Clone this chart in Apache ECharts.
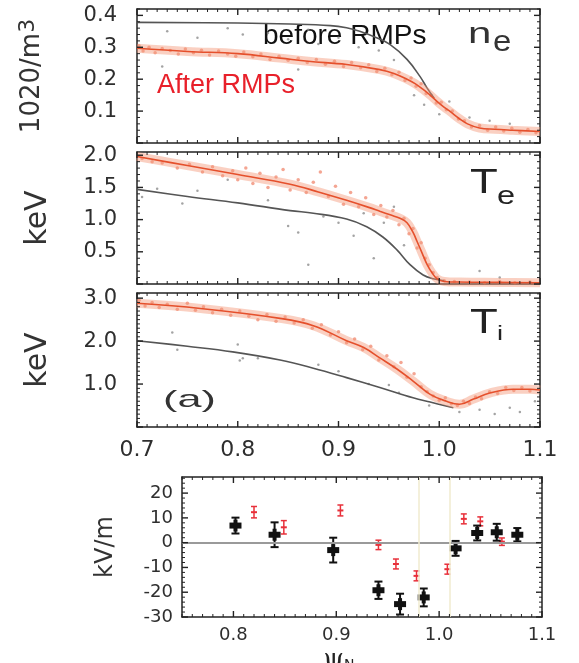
<!DOCTYPE html>
<html><head><meta charset="utf-8">
<script src="https://cdn.jsdelivr.net/npm/echarts/dist/echarts.min.js"></script>
<style>html,body{margin:0;padding:0;background:#fff}#c{width:579px;height:663px}</style>
</head><body><div id="c"></div>
<script>
// ---------------- DATA ----------------
const xTickLabels = ['0.7','0.8','0.9','1.0','1.1'];
const neTickLabels = ['0.1','0.2','0.3','0.4'];
const teTickLabels = ['0.5','1.0','1.5','2.0'];
const tiTickLabels = ['1.0','2.0','3.0'];
const erXTickLabels = ['0.8','0.9','1.0','1.1'];
const erYTickLabels = ['-30','-20','-10','0','10','20'];

// n_e (10^20 m^-3)
const neBefore = [[0.700,0.378],[0.800,0.376],[0.852,0.373],[0.892,0.368],[0.908,0.361],[0.921,0.350],[0.936,0.332],[0.951,0.309],[0.968,0.262],[0.981,0.208],[0.988,0.172],[0.995,0.140]];
const neAfter = [[0.700,0.297],[0.750,0.287],[0.800,0.280],[0.842,0.266],[0.870,0.256],[0.908,0.246],[0.941,0.230],[0.955,0.218],[0.968,0.200],[0.976,0.186],[0.984,0.168],[0.991,0.150],[0.998,0.130],[1.005,0.112],[1.011,0.098],[1.020,0.076],[1.028,0.060],[1.040,0.047],[1.055,0.043],[1.073,0.040],[1.100,0.036]];
const neAfterPts = [[0.702,0.305],[0.706,0.288],[0.712,0.300],[0.718,0.283],[0.725,0.296],[0.733,0.290],[0.741,0.279],[0.748,0.295],[0.756,0.283],[0.764,0.291],[0.772,0.276],[0.781,0.288],[0.790,0.279],[0.798,0.272],[0.806,0.285],[0.815,0.270],[0.823,0.279],[0.832,0.262],[0.841,0.272],[0.850,0.259],[0.860,0.266],[0.869,0.252],[0.878,0.262],[0.887,0.247],[0.896,0.256],[0.905,0.240],[0.913,0.252],[0.922,0.236],[0.930,0.245],[0.938,0.224],[0.946,0.234],[0.953,0.214],[0.960,0.222],[0.966,0.196],[0.972,0.204],[0.977,0.178],[0.982,0.186],[0.987,0.155],[0.992,0.150],[0.997,0.125],[1.002,0.128],[1.007,0.104],[1.013,0.100],[1.019,0.075],[1.025,0.070],[1.032,0.050],[1.040,0.055],[1.048,0.040],[1.056,0.050],[1.064,0.038],[1.072,0.046],[1.080,0.034],[1.088,0.042],[1.096,0.032]];
const neGrayPts = [[0.730,0.350],[0.760,0.330],[0.790,0.360],[0.805,0.340],[0.830,0.345],[0.850,0.325],[0.870,0.355],[0.880,0.310],[0.900,0.330],[0.920,0.300],[0.940,0.290],[0.955,0.260],[0.975,0.150],[0.985,0.120],[1.000,0.090],[1.010,0.130],[1.030,0.080],[1.050,0.070],[1.070,0.060],[0.725,0.240],[0.860,0.230]];

// T_e (keV)
const teBefore = [[0.700,1.47],[0.750,1.36],[0.800,1.26],[0.852,1.14],[0.875,1.10],[0.908,1.01],[0.928,0.89],[0.944,0.73],[0.958,0.53],[0.971,0.30],[0.984,0.14],[0.994,0.08],[1.005,0.05]];
const teAfter = [[0.700,1.98],[0.750,1.84],[0.800,1.70],[0.852,1.55],[0.880,1.43],[0.908,1.30],[0.930,1.19],[0.941,1.13],[0.952,1.07],[0.961,1.02],[0.968,0.95],[0.974,0.80],[0.978,0.66],[0.983,0.48],[0.988,0.30],[0.993,0.17],[0.998,0.08],[1.005,0.04],[1.020,0.03],[1.060,0.025],[1.100,0.02]];
const teAfterPts = [[0.705,1.95],[0.715,1.90],[0.725,1.88],[0.740,1.80],[0.752,1.86],[0.765,1.74],[0.775,1.82],[0.785,1.68],[0.795,1.76],[0.800,1.62],[0.808,1.80],[0.815,1.56],[0.822,1.72],[0.830,1.50],[0.838,1.66],[0.845,1.78],[0.852,1.46],[0.860,1.62],[0.868,1.42],[0.875,1.58],[0.882,1.74],[0.890,1.36],[0.897,1.52],[0.905,1.24],[0.912,1.42],[0.920,1.20],[0.927,1.34],[0.935,1.08],[0.942,1.22],[0.948,1.04],[0.954,1.14],[0.960,0.92],[0.965,1.02],[0.970,0.78],[0.974,0.86],[0.978,0.56],[0.982,0.64],[0.986,0.40],[0.990,0.30],[0.994,0.18],[0.998,0.10],[1.005,0.05],[1.015,0.04],[1.030,0.03],[1.045,0.02],[1.060,0.04],[1.075,0.02],[1.090,0.03]];
const teGrayPts = [[0.705,1.35],[0.720,1.48],[0.745,1.25],[0.760,1.45],[0.790,1.62],[0.830,1.30],[0.850,0.90],[0.860,0.80],[0.870,0.30],[0.885,1.05],[0.900,0.95],[0.915,0.75],[0.925,1.10],[0.935,0.40],[0.945,0.95],[0.955,1.20],[0.965,0.60],[1.040,0.20],[1.060,0.10]];

// T_i (keV)
const tiBefore = [[0.700,2.01],[0.750,1.88],[0.795,1.75],[0.842,1.56],[0.875,1.37],[0.908,1.15],[0.941,0.92],[0.974,0.68],[0.991,0.58],[1.014,0.45]];
const tiAfter = [[0.700,2.88],[0.763,2.76],[0.842,2.53],[0.875,2.36],[0.908,2.01],[0.925,1.85],[0.941,1.61],[0.958,1.35],[0.974,1.07],[0.991,0.76],[1.007,0.60],[1.020,0.53],[1.034,0.65],[1.050,0.79],[1.073,0.88],[1.090,0.88],[1.100,0.86]];
const tiAfterPts = [[0.702,2.95],[0.708,2.82],[0.715,2.90],[0.722,2.78],[0.730,2.86],[0.740,2.74],[0.750,2.88],[0.758,2.72],[0.766,2.80],[0.775,2.66],[0.784,2.74],[0.793,2.60],[0.802,2.70],[0.811,2.58],[0.820,2.50],[0.829,2.62],[0.838,2.46],[0.847,2.56],[0.856,2.42],[0.865,2.50],[0.874,2.30],[0.883,2.38],[0.892,2.14],[0.900,2.22],[0.908,1.96],[0.916,2.05],[0.924,1.80],[0.932,1.88],[0.940,1.56],[0.948,1.66],[0.955,1.40],[0.962,1.50],[0.968,1.16],[0.975,1.24],[0.982,0.94],[0.988,0.82],[0.994,0.72],[1.000,0.62],[1.006,0.68],[1.012,0.54],[1.018,0.50],[1.024,0.60],[1.030,0.55],[1.036,0.70],[1.042,0.66],[1.050,0.82],[1.058,0.78],[1.066,0.92],[1.074,0.85],[1.082,0.92],[1.090,0.84]];
const tiGrayPts = [[0.735,2.20],[0.740,1.80],[0.800,1.92],[0.802,1.55],[0.805,1.60],[0.820,1.60],[0.880,1.45],[0.900,1.30],[0.930,1.00],[0.950,0.98],[0.960,0.80],[0.990,0.50],[1.020,0.35],[1.040,0.40],[1.055,0.30],[1.070,0.45],[1.080,0.35],[1.095,0.60]];

// E_r (kV/m): [psi, value, error]
const erBefore = [[0.802,6.9,3.2],[0.840,3.2,5.0],[0.897,-3.0,5.0],[0.941,-19.2,3.5],[0.962,-24.8,4.2],[0.985,-22.1,3.6],[1.016,-2.3,3.0],[1.037,3.9,3.0],[1.056,4.2,3.4],[1.076,3.2,2.7]];
const erAfter = [[0.820,12.3,2.3],[0.849,6.2,2.7],[0.904,13.0,2.2],[0.941,-0.9,1.9],[0.958,-8.6,2.0],[0.978,-13.4,2.0],[1.008,-10.7,2.0],[1.024,9.6,2.0],[1.040,8.6,1.8],[1.061,0.4,1.5]];
const erVLines = [0.983, 1.014];

// ---------------- CHART ----------------
const AX = '#222';
const TICKFONT = 'DejaVu Sans';
function fmt(labels){ const nums = labels.map(Number); return v => { const i = nums.findIndex(n => Math.abs(n - v) < 1e-6); return i >= 0 ? labels[i] : ''; }; }

const grids = [
  {left:137, top:9, width:403, height:134},
  {left:137, top:152, width:403, height:132},
  {left:137, top:293, width:403, height:134},
  {left:182, top:477, width:360, height:140}
];
// per grid: [xmin, xmax, xMajor, xMinor, ymin, ymax, yMajor, yMinor]
const scales = [
  [0.7, 1.1, 0.1, 0.01, 0, 0.42, 0.1, 0.02],
  [0.7, 1.1, 0.1, 0.01, 0, 2.05, 0.5, 0.1],
  [0.7, 1.1, 0.1, 0.01, 0, 3.12, 1, 0.1],
  [0.75, 1.1, 0.05, 0.01, -30, 26.5, 10, 2]
];

function axisBase(gi, min, max, interval, extra){
  return Object.assign({gridIndex:gi, type:'value', min:min, max:max, interval:interval,
    axisLine:{show:true, onZero:false, lineStyle:{color:AX, width:1.5}},
    axisTick:{show:false}, minorTick:{show:false},
    splitLine:{show:false}, minorSplitLine:{show:false}}, extra);
}
function lbl(labels, size, margin){
  return {show:true, formatter: fmt(labels), fontFamily:TICKFONT, fontSize:size, color:'#2e2e2e', margin:margin};
}
const xAxes = [
  axisBase(0, 0.7, 1.1, 0.1, {position:'bottom', axisLabel:{show:false}}),
  axisBase(0, 0.7, 1.1, 0.1, {position:'top', axisLabel:{show:false}}),
  axisBase(1, 0.7, 1.1, 0.1, {position:'bottom', axisLabel:{show:false}}),
  axisBase(1, 0.7, 1.1, 0.1, {position:'top', axisLabel:{show:false}}),
  axisBase(2, 0.7, 1.1, 0.1, {position:'bottom', axisLabel:lbl(xTickLabels, 22, 12)}),
  axisBase(2, 0.7, 1.1, 0.1, {position:'top', axisLabel:{show:false}}),
  axisBase(3, 0.75, 1.1, 0.05, {position:'bottom', axisLabel:lbl(erXTickLabels, 18, 9),
    name:'{p|ψ}{n|N}', nameLocation:'middle', nameGap:30,
    nameTextStyle:{padding:[0,46,0,0], rich:{p:{fontFamily:'DejaVu Serif', fontSize:26, color:'#222'}, n:{fontFamily:'DejaVu Sans', fontSize:14, color:'#222', padding:[10,0,0,0]}}}}),
  axisBase(3, 0.75, 1.1, 0.05, {position:'top', axisLabel:{show:false}})
];
const yAxes = [
  axisBase(0, 0, 0.42, 0.1, {position:'left', axisLabel:lbl(neTickLabels, 21, 20),
    name:'{a|1020/m}{s|3}', nameLocation:'middle', nameGap:90, nameRotate:90,
    nameTextStyle:{rich:{a:{fontFamily:'DejaVu Sans', fontSize:26, color:'#333'}, s:{fontFamily:'DejaVu Sans', fontSize:22, color:'#333', padding:[0,0,8,0]}}}}),
  axisBase(0, 0, 0.42, 0.1, {position:'right', axisLabel:{show:false}}),
  axisBase(1, 0, 2.05, 0.5, {position:'left', axisLabel:lbl(teTickLabels, 21, 20),
    name:'keV', nameLocation:'middle', nameGap:84, nameRotate:90,
    nameTextStyle:{fontFamily:'DejaVu Sans', fontSize:30, color:'#333'}}),
  axisBase(1, 0, 2.05, 0.5, {position:'right', axisLabel:{show:false}}),
  axisBase(2, 0, 3.12, 1, {position:'left', axisLabel:lbl(tiTickLabels, 21, 20),
    name:'keV', nameLocation:'middle', nameGap:84, nameRotate:90,
    nameTextStyle:{fontFamily:'DejaVu Sans', fontSize:30, color:'#333'}}),
  axisBase(2, 0, 3.12, 1, {position:'right', axisLabel:{show:false}}),
  axisBase(3, -30, 26.5, 10, {position:'left', axisLabel:lbl(erYTickLabels, 18, 9),
    name:'kV/m', nameLocation:'middle', nameGap:64, nameRotate:90,
    nameTextStyle:{fontFamily:'DejaVu Sans', fontSize:24, color:'#333'}}),
  axisBase(3, -30, 26.5, 10, {position:'right', axisLabel:{show:false}})
];

const series = [];

// tick marks on all four sides of every frame, placed via the axes' own scales
function tickValues(min, max, major, minor){
  const out = [];
  const k0 = Math.ceil(min / minor - 1e-6), k1 = Math.floor(max / minor + 1e-6);
  for (let k = k0; k <= k1; k++) {
    const v = +(k * minor).toFixed(6);
    const r = v / major;
    out.push([v, Math.abs(r - Math.round(r)) < 1e-6 ? 1 : 0]);
  }
  return out;
}
function tickRender(isX){
  return function(params, api){
    const cs = params.coordSys;
    const p = api.coord([api.value(0), api.value(1)]);
    const len = api.value(2) ? 6 : 3;
    const st = {stroke:AX, lineWidth: api.value(2) ? 1.4 : 1};
    if (isX) {
      const x = p[0], yb = cs.y + cs.height, yt = cs.y;
      return {type:'group', children:[
        {type:'line', shape:{x1:x, y1:yb, x2:x, y2:yb - len}, style:st},
        {type:'line', shape:{x1:x, y1:yt, x2:x, y2:yt + len}, style:st}]};
    }
    const y = p[1], xl = cs.x, xr = cs.x + cs.width;
    return {type:'group', children:[
      {type:'line', shape:{x1:xl, y1:y, x2:xl + len, y2:y}, style:st},
      {type:'line', shape:{x1:xr, y1:y, x2:xr - len, y2:y}, style:st}]};
  };
}
scales.forEach((s, gi) => {
  const xt = tickValues(s[0], s[1], gi === 3 ? 0.1 : s[2], s[3]).map(t => [t[0], s[4], t[1]]);
  const yt = tickValues(s[4], s[5], s[6], s[7]).map(t => [s[0], t[0], t[1]]);
  series.push({type:'custom', xAxisIndex:2*gi, yAxisIndex:2*gi, data:xt, renderItem:tickRender(true), encode:{x:0, y:1}, silent:true, clip:false, z:5});
  series.push({type:'custom', xAxisIndex:2*gi, yAxisIndex:2*gi, data:yt, renderItem:tickRender(false), encode:{x:0, y:1}, silent:true, clip:false, z:5});
});

function profile(gi, before, after, afterPts, grayPts){
  const ax = {xAxisIndex:2*gi, yAxisIndex:2*gi};
  series.push(Object.assign({type:'scatter', data:grayPts, symbolSize:2.5, itemStyle:{color:'#8c8c8c'}, silent:true}, ax));
  series.push(Object.assign({type:'line', data:before, smooth:0.4, showSymbol:false, lineStyle:{color:'#555', width:1.6}, silent:true}, ax));
  series.push(Object.assign({type:'line', data:after, smooth:0.4, showSymbol:false, lineStyle:{color:'rgba(245,150,120,0.45)', width:9}, silent:true}, ax));
  series.push(Object.assign({type:'scatter', data:afterPts, symbolSize:3.5, itemStyle:{color:'rgba(235,95,60,0.7)'}, silent:true}, ax));
  series.push(Object.assign({type:'line', data:after, smooth:0.4, showSymbol:false, lineStyle:{color:'#e5502c', width:1.6}, silent:true}, ax));
}
profile(0, neBefore, neAfter, neAfterPts, neGrayPts);
profile(1, teBefore, teAfter, teAfterPts, teGrayPts);
profile(2, tiBefore, tiAfter, tiAfterPts, tiGrayPts);

function errRender(black){
  return function(params, api){
    const x = api.value(0), y = api.value(1), e = api.value(2);
    const p = api.coord([x, y]), t = api.coord([x, y + e]), b = api.coord([x, y - e]);
    const col = black ? '#111' : '#e8303a';
    const lw = black ? 2 : 1.5, cap = black ? 4 : 3;
    const ch = [
      {type:'line', shape:{x1:p[0], y1:t[1], x2:p[0], y2:b[1]}, style:{stroke:col, lineWidth:lw}},
      {type:'line', shape:{x1:p[0]-cap, y1:t[1], x2:p[0]+cap, y2:t[1]}, style:{stroke:col, lineWidth:lw}},
      {type:'line', shape:{x1:p[0]-cap, y1:b[1], x2:p[0]+cap, y2:b[1]}, style:{stroke:col, lineWidth:lw}}
    ];
    if (black) {
      ch.push({type:'rect', shape:{x:p[0]-6, y:p[1]-3, width:12, height:6}, style:{fill:col}});
      ch.push({type:'rect', shape:{x:p[0]-2, y:p[1]-6, width:4, height:12}, style:{fill:col}});
    } else {
      ch.push({type:'line', shape:{x1:p[0]-3, y1:p[1], x2:p[0]+3, y2:p[1]}, style:{stroke:col, lineWidth:2}});
    }
    return {type:'group', children:ch};
  };
}
series.push({type:'line', xAxisIndex:6, yAxisIndex:6, data:[], silent:true,
  markLine:{symbol:'none', silent:true, label:{show:false},
    data:[{yAxis:0, lineStyle:{color:'#9a9a9a', width:2, type:'solid'}}].concat(
      erVLines.map(v => ({xAxis:v, lineStyle:{color:'#f0ebcf', width:1.5, type:'solid'}})))}});
series.push({type:'custom', xAxisIndex:6, yAxisIndex:6, data:erAfter, renderItem:errRender(false), encode:{x:0, y:1}, silent:true});
series.push({type:'custom', xAxisIndex:6, yAxisIndex:6, data:erBefore, renderItem:errRender(true), encode:{x:0, y:1}, silent:true});

const LF = '"Liberation Sans", Arial, sans-serif';
const graphic = [
  {type:'text', x:263, y:36, style:{text:'before RMPs', font:'28px ' + LF, fill:'#111', verticalAlign:'middle'}},
  {type:'text', x:157, y:86, style:{text:'After RMPs', font:'27px ' + LF, fill:'#e8202a', verticalAlign:'middle'}},
  {type:'text', x:468, y:35, scaleX:1.4, style:{text:'n', font:'30px ' + LF, fill:'#333', verticalAlign:'middle'}},
  {type:'text', x:493, y:43, scaleX:1.1, style:{text:'e', font:'30px ' + LF, fill:'#333', verticalAlign:'middle'}},
  {type:'text', x:470, y:183, scaleX:1.3, style:{text:'T', font:'35px ' + LF, fill:'#222', verticalAlign:'middle'}},
  {type:'text', x:497, y:197, scaleX:1.3, style:{text:'e', font:'25px ' + LF, fill:'#222', verticalAlign:'middle'}},
  {type:'text', x:470, y:323, scaleX:1.3, style:{text:'T', font:'35px ' + LF, fill:'#222', verticalAlign:'middle'}},
  {type:'text', x:497, y:334, scaleX:1.3, style:{text:'i', font:'21px ' + LF, fill:'#222', verticalAlign:'middle'}},
  {type:'text', x:163, y:400, scaleX:1.8, style:{text:'(a)', font:'24px ' + LF, fill:'#333', verticalAlign:'middle'}}
];

const chart = echarts.init(document.getElementById('c'));
chart.setOption({
  animation:false,
  backgroundColor:'#fff',
  grid: grids.map(g => Object.assign({containLabel:false, outerBoundsMode:'none'}, g)),
  xAxis: xAxes,
  yAxis: yAxes,
  series: series,
  graphic: graphic
});
</script></body></html>
